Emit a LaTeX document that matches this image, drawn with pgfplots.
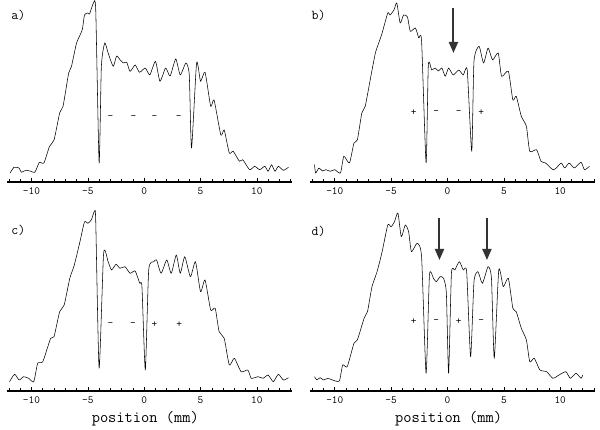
\documentclass[border=0pt]{standalone}
\usepackage{pgfplots}
\pgfplotsset{compat=1.18}
\usepackage{fontspec}
\usetikzlibrary{arrows.meta}

\pgfplotsset{
  prof/.style={
    x=11.27pt, y=1pt,
    xmin=-12.2, xmax=13.1, ymin=0, ymax=180,
    anchor=south west, clip=false,
    axis x line=bottom, axis y line=none,
    x axis line style={-, line width=1.2pt},
    xtick={-10,-5,0,5,10},
    minor xtick={-12,...,13},
    tick align=inside,
    major tick length=4pt, minor tick length=3pt,
    every tick/.style={black, line width=0.6pt},
    xticklabel style={font=\ttfamily\fontsize{11}{13}\selectfont, yshift=-2pt},
    /pgf/number format/assume math mode=true,
  },
  curve/.style={black, line width=0.55pt, line join=round, mark=none,
    smooth, tension=0.35},
  posl/.style={xlabel={position (mm)},
    xlabel style={font=\ttfamily\fontsize{16}{18}\selectfont,
      at={(axis cs:0.1,-28)}, anchor=center}},
}
\tikzset{
  sign/.style={font=\ttfamily\fontsize{11}{13}\selectfont},
  tag/.style={font=\ttfamily\fontsize{13.5}{15}\selectfont, anchor=west},
  arr/.style={black!80, line width=2pt, -{Triangle[width=9pt,length=11pt]}},
}

\begin{document}
\begin{tikzpicture}
\useasboundingbox (0,0) rectangle (600pt,430pt);

% a)
\begin{axis}[prof, at={(6.7pt,248pt)}]
\addplot[curve] coordinates {
(-11.9,9) (-11.55,14.7) (-11.1,14) (-10.9,9.7) (-10.5,11.7) (-10.05,10.7)
(-9.7,9.7) (-9.3,19.7) (-8.9,19) (-8.4,35.7) (-8.0,42) (-7.5,69) (-7.2,75.7)
(-6.7,109) (-6.45,115.7) (-6.0,139) (-5.5,152) (-5.3,167) (-5.0,169)
(-4.85,168) (-4.5,179) (-4.3,172) (-4.0,19) (-3.8,115.7) (-3.5,139)
(-3.2,129) (-2.75,115.7) (-2.45,126) (-2.15,122.3) (-1.85,119) (-1.55,119.7)
(-1.25,110.7) (-0.8,117) (-0.42,109.7) (0.1,114) (0.5,107) (1.0,120.7)
(1.4,100.7) (1.9,114) (2.3,106) (2.8,123) (3.2,107) (3.7,119) (4.0,107)
(4.2,34) (4.65,119) (5.0,100.7) (5.4,109.7) (5.9,75.7) (6.2,82) (6.8,47)
(7.1,52) (7.55,29) (7.9,30.7) (8.45,20.7) (8.75,22.3) (9.35,12.3) (9.8,15.7)
(10.25,12.3) (10.7,15.7) (11.0,10.7) (11.3,17.3) (11.6,10.7) (11.9,15.7)
(12.35,11.7) (12.8,14.7)
};
\node[tag] at (axis cs:-12.1,167) {a)};
\node[sign] at (axis cs:-3.0,64) {-};
\node[sign] at (axis cs:-0.95,64) {-};
\node[sign] at (axis cs:0.9,64) {-};
\node[sign] at (axis cs:3.07,64) {-};
\end{axis}

% b)
\begin{axis}[prof, at={(310pt,248pt)}]
\addplot[curve] coordinates {
(-11.8,17.3) (-11.7,9) (-11.4,14) (-11.1,11) (-10.8,12.3) (-10.4,10.7)
(-10.0,12.3) (-9.5,9) (-9.2,25.7) (-8.7,19) (-8.3,39) (-8.0,42) (-7.6,69)
(-7.3,75.7) (-6.8,105.7) (-6.4,129) (-6.1,139) (-5.8,149) (-5.3,169)
(-5.1,167) (-4.75,172) (-4.5,179) (-4.2,159) (-3.9,167) (-3.55,165)
(-3.3,150.7) (-2.85,154) (-2.55,144) (-2.3,141) (-1.9,19) (-1.7,117)
(-1.4,112) (-1.1,114) (-0.8,111) (-0.5,114) (-0.2,105.7) (0.1,114) (0.5,107)
(1.0,112) (1.4,107) (1.75,112) (2.15,30.7) (2.35,120.7) (2.8,135.7) (3.2,119)
(3.6,134) (4.0,122) (4.5,129) (4.8,105.7) (5.4,110.7) (5.8,82) (6.1,85.7)
(6.55,65.7) (7.0,55.7) (7.3,30.7) (7.9,32.3) (8.3,20.7) (8.7,19) (9.35,12.3)
(9.65,14) (10.1,19) (10.4,14) (10.8,19) (11.25,14) (11.85,19.7) (12.15,12.3)
(12.6,15.7)
};
\node[tag] at (axis cs:-12.36,167) {b)};
\node[sign] at (axis cs:-3.0,69) {+};
\node[sign] at (axis cs:-1.0,69) {-};
\node[sign] at (axis cs:1.0,69) {-};
\node[sign] at (axis cs:3.0,69) {+};
\draw[arr] (axis cs:0.53,174) -- (axis cs:0.53,129);
\end{axis}

% c)
\begin{axis}[prof, posl, at={(6.7pt,39pt)}]
\addplot[curve] coordinates {
(-11.95,9.3) (-11.5,16.7) (-11.1,11) (-10.7,14.3) (-10.25,12.7) (-9.8,9.3)
(-9.45,27.7) (-9.0,29.3) (-8.3,52.7) (-8.0,54.3) (-7.5,79.3) (-7.1,86)
(-6.6,112.7) (-6.2,126) (-5.7,149.3) (-5.3,169) (-5.0,167.7) (-4.7,171)
(-4.4,180) (-4.3,170) (-4.0,22.7) (-3.6,137.7) (-3.2,129.3) (-2.9,121)
(-2.5,126.7) (-2.15,122.7) (-1.7,124.3) (-1.25,117.7) (-0.8,120) (-0.4,107.7)
(-0.2,104.3) (0.1,21) (0.4,121) (0.85,129.3) (1.1,131) (1.5,117.7) (2.0,131)
(2.4,117.7) (2.85,136) (3.2,117.7) (3.6,134.3) (4.1,114.3) (4.55,129.3)
(5.0,99.3) (5.4,111) (5.9,81) (6.3,82.7) (6.65,59.3) (7.1,52.7) (7.55,26)
(8.0,32.7) (8.6,19.3) (9.2,21) (9.5,12.7) (10.1,14.3) (10.55,12.7) (11.0,16)
(11.45,9.3) (11.9,16.7) (12.35,11) (12.8,13.3)
};
\node[tag] at (axis cs:-12.1,161) {c)};
\node[sign] at (axis cs:-3.0,66) {-};
\node[sign] at (axis cs:-1.0,66) {-};
\node[sign] at (axis cs:0.9,66) {+};
\node[sign] at (axis cs:3.1,66) {+};
\end{axis}

% d)
\begin{axis}[prof, posl, at={(310pt,39pt)}]
\addplot[curve] coordinates {
(-11.8,14.3) (-11.6,11) (-11.3,13.3) (-11.0,11) (-10.6,12.7) (-10.2,11)
(-9.6,10) (-9.3,26) (-8.9,24.3) (-8.3,47.7) (-8.0,51) (-7.4,72.7) (-7.1,79.3)
(-6.7,104.3) (-6.25,119.3) (-5.8,139.3) (-5.3,166) (-5.0,164.3) (-4.7,169.3)
(-4.4,178) (-4.1,154.3) (-3.75,166) (-3.45,159.3) (-3.2,139.3) (-2.7,147.7)
(-2.3,134.3) (-1.9,17.7) (-1.6,116) (-1.25,112.7) (-1.0,109.3) (-0.65,114.3)
(-0.35,112.7) (-0.1,97.7) (0.1,17.7) (0.35,117.7) (0.65,121) (1.05,129.3)
(1.4,121) (1.7,119.3) (2.05,34.3) (2.35,109.3) (2.7,119.3) (3.1,107.7)
(3.6,124.3) (3.9,112.7) (4.15,32.7) (4.55,121) (4.95,104.3) (5.4,112.7)
(5.8,82.7) (6.1,79.3) (6.55,62.7) (7.0,51) (7.3,29.3) (7.7,32.7) (8.2,21)
(8.8,19.3) (9.35,12.7) (9.9,16) (10.5,19.3) (10.9,12.7) (11.4,17.7)
(11.85,12.7) (12.0,16)
};
\node[tag] at (axis cs:-12.36,160) {d)};
\node[sign] at (axis cs:-3.0,69) {+};
\node[sign] at (axis cs:-1.0,69) {-};
\node[sign] at (axis cs:1.0,69) {+};
\node[sign] at (axis cs:3.0,69) {-};
\draw[arr] (axis cs:-0.71,173) -- (axis cs:-0.71,131);
\draw[arr] (axis cs:3.5,173) -- (axis cs:3.5,131);
\end{axis}
\end{tikzpicture}
\end{document}
